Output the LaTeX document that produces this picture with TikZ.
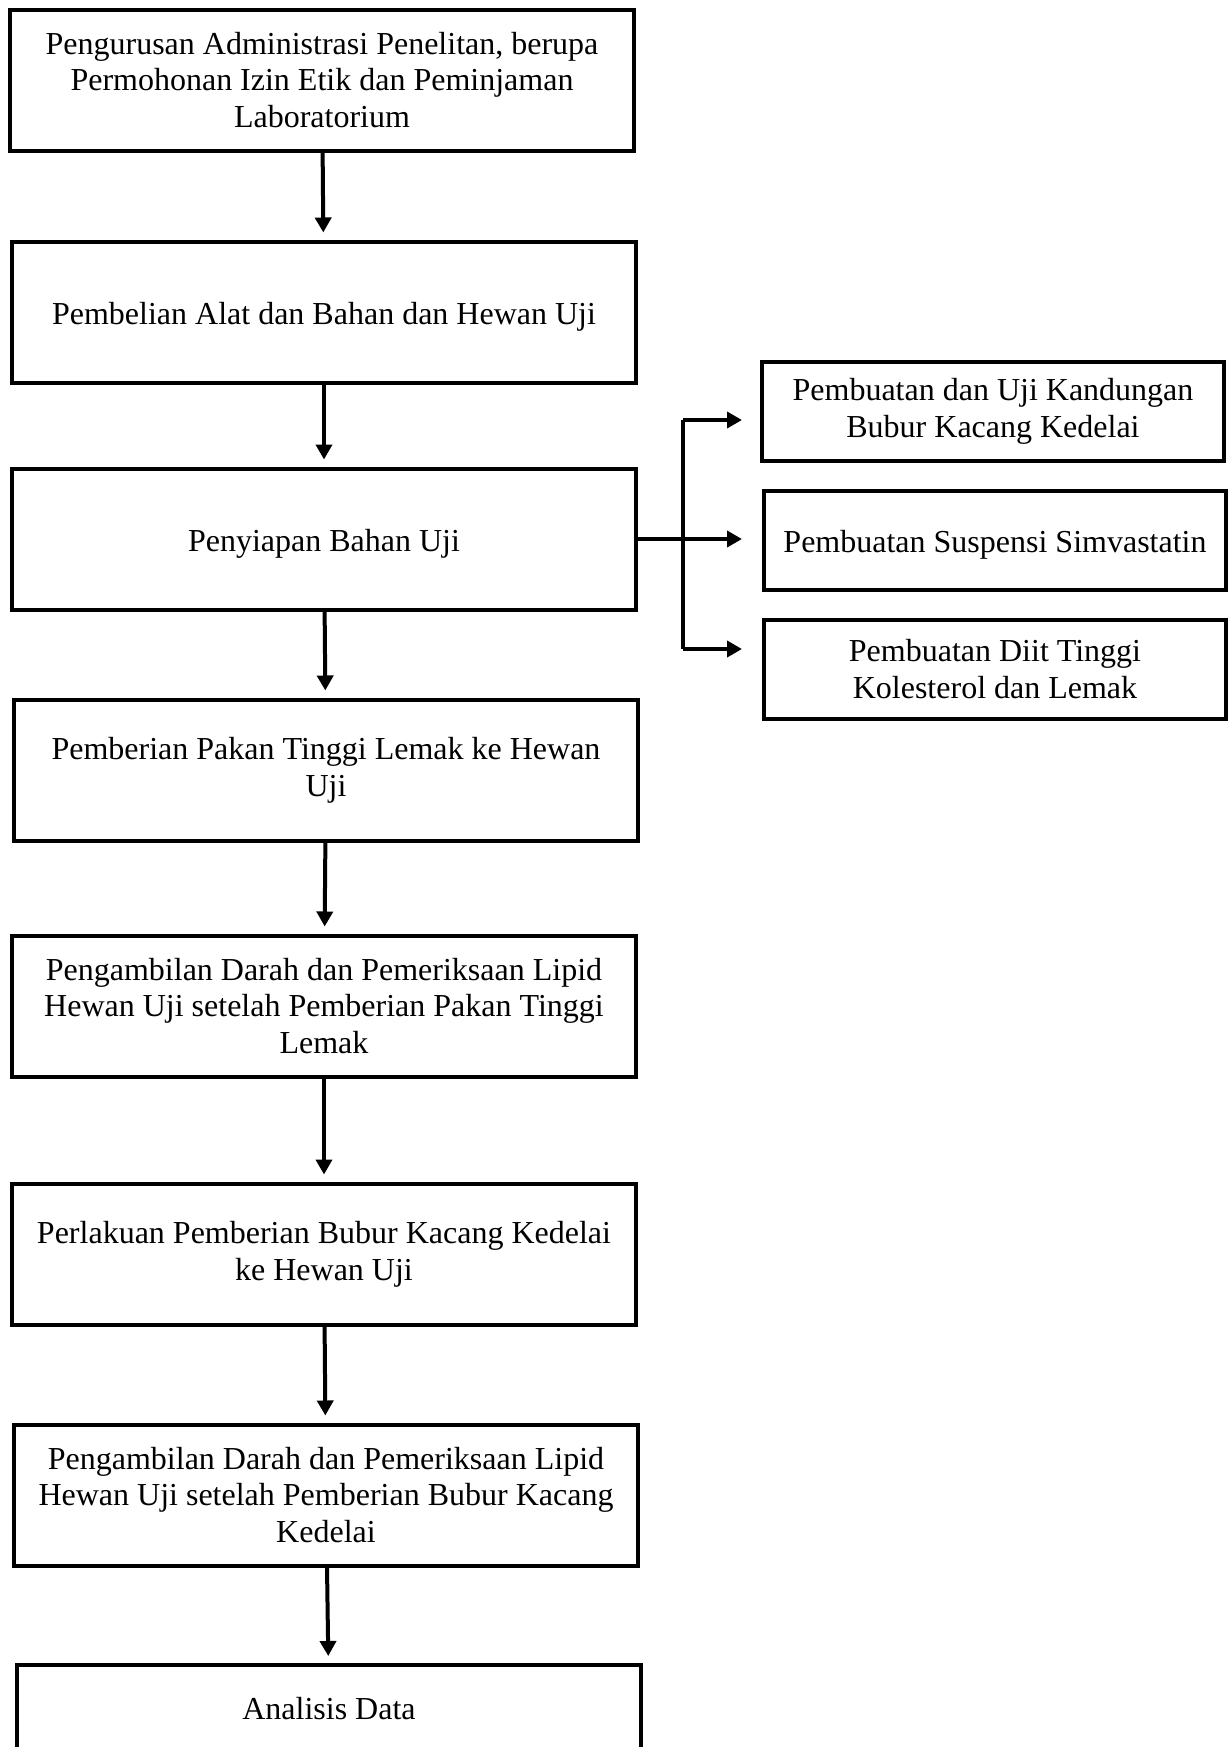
\documentclass[tikz,border=0pt]{standalone}
\usepackage{fontspec}
\setmainfont{Liberation Serif}
\usetikzlibrary{arrows.meta}

\tikzset{
  basebox/.style={draw, line width=2pt, minimum width=312pt, minimum height=70.5pt,
    inner sep=0pt, align=center, font=\fontsize{16pt}{18.4pt}\selectfont},
  stage/.style={basebox, execute at begin node={\rule{0pt}{16pt}}},
  sidebox/.style={stage, minimum width=231pt, minimum height=49.5pt},
  flow/.style={line width=2pt, -{Triangle[width=8pt,length=7.5pt]}, shorten >=3.5pt},
}

\begin{document}
\begin{tikzpicture}[x=0.5pt, y=-0.5pt]
    \useasboundingbox (0,0) rectangle (1228,1747);
    % main column
    \node[stage] (admin) at (322,80) {Pengurusan Administrasi Penelitan, berupa\\ Permohonan Izin Etik dan Peminjaman\\ Laboratorium};
    \node[stage] (beli) at (324,312) {Pembelian Alat dan Bahan dan Hewan Uji};
    \node[stage] (siap) at (324,539) {Penyiapan Bahan Uji};
    \node[stage] (pakan) at (326,770) {Pemberian Pakan Tinggi Lemak ke Hewan\\ Uji};
    \node[stage] (darah1) at (324,1006) {Pengambilan Darah dan Pemeriksaan Lipid\\ Hewan Uji setelah Pemberian Pakan Tinggi\\ Lemak};
    \node[stage] (bubur) at (324,1254) {Perlakuan Pemberian Bubur Kacang Kedelai\\ ke Hewan Uji};
    \node[stage] (darah2) at (326,1495) {Pengambilan Darah dan Pemeriksaan Lipid\\ Hewan Uji setelah Pemberian Bubur Kacang\\ Kedelai};
    \node[basebox, minimum height=44pt] (analisis) at (329,1709) {Analisis Data};
    % side boxes
    \node[sidebox] (kedelai) at (993,411) {Pembuatan dan Uji Kandungan\\ Bubur Kacang Kedelai};
    \node[sidebox] (simva) at (995,540) {Pembuatan Suspensi Simvastatin};
    \node[sidebox] (diit) at (995,669) {Pembuatan Diit Tinggi\\ Kolesterol dan Lemak};

    \draw[flow] (admin) -- (beli);
    \draw[flow] (beli) -- (siap);
    \draw[flow] (siap) -- (pakan);
    \draw[flow] (pakan) -- (darah1);
    \draw[flow] (darah1) -- (bubur);
    \draw[flow] (bubur) -- (darah2);
    \draw[flow] (darah2) -- (analisis);

    % fork to the right
    \coordinate (forktop) at (683,420);
    \coordinate (forkbot) at (683,649);
    \draw[line width=2pt] (forktop) -- (forkbot);
    \draw[flow, shorten >=10pt] (siap.east) -- (siap.east -| simva.west);
    \draw[flow, shorten >=9pt] (forktop) -- (forktop -| kedelai.west);
    \draw[flow, shorten >=10pt] (forkbot) -- (forkbot -| diit.west);
\end{tikzpicture}
\end{document}
